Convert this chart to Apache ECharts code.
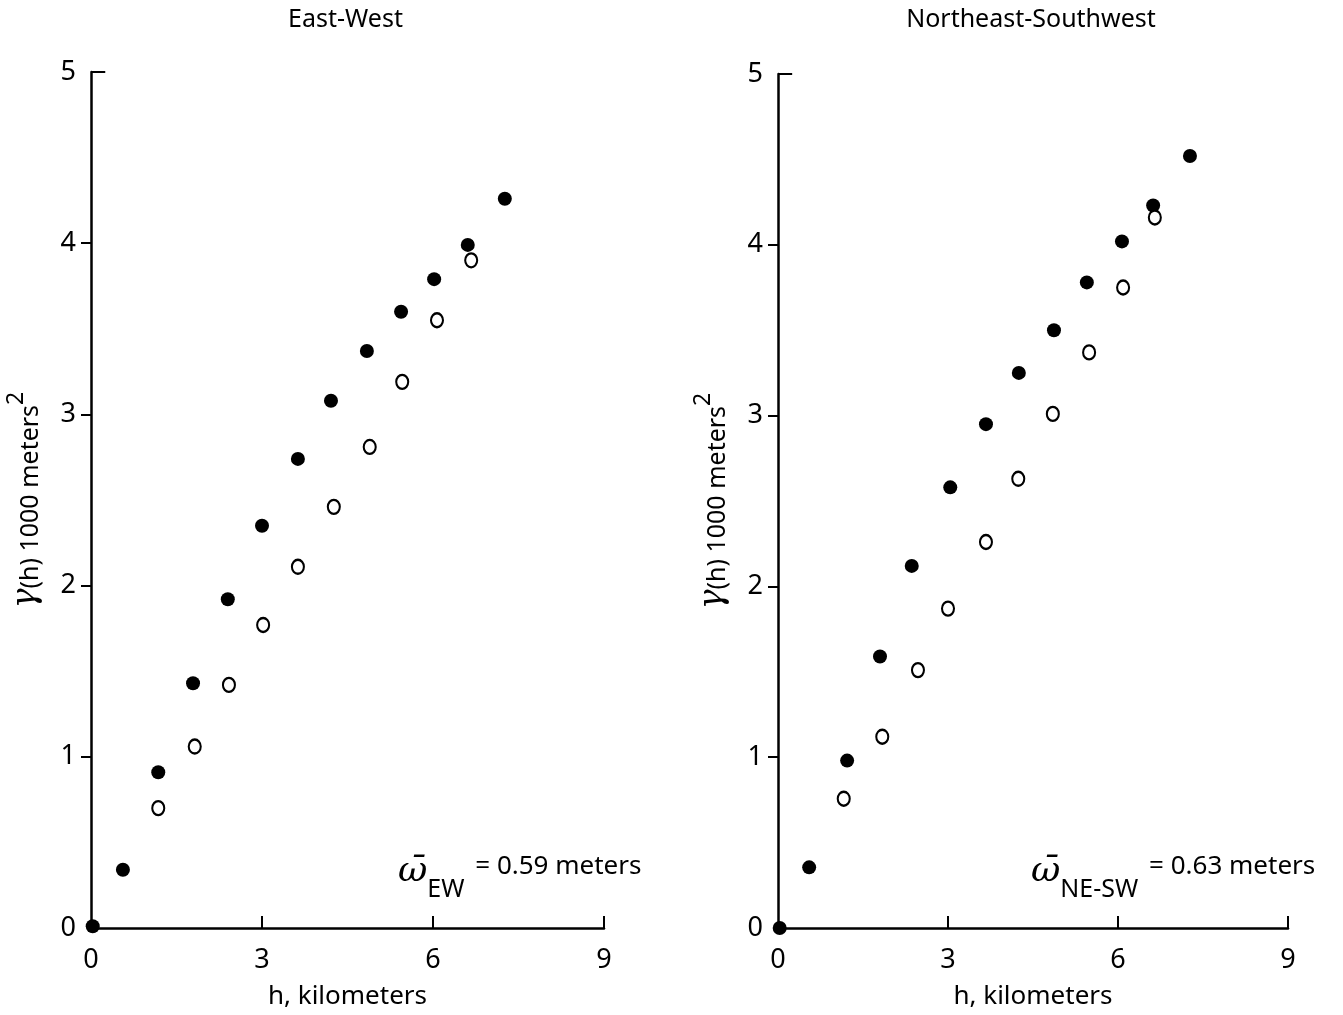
<!DOCTYPE html>
<html><head><meta charset="utf-8">
<script src="https://cdn.jsdelivr.net/npm/echarts@6/dist/echarts.min.js"></script>
<style>html,body{margin:0;padding:0;background:#fff}#c{width:1343px;height:1015px}</style>
</head><body><div id="c"></div>
<script>
// East-West panel
const ewFilledH = [0.03, 0.56, 1.18, 1.79, 2.40, 3.00, 3.63, 4.21, 4.84, 5.44, 6.02, 6.61, 7.26];
const ewFilledG = [0.01, 0.34, 0.91, 1.43, 1.92, 2.35, 2.74, 3.08, 3.37, 3.60, 3.79, 3.99, 4.26];
const ewOpenH = [1.18, 1.82, 2.42, 3.02, 3.63, 4.26, 4.89, 5.46, 6.07, 6.67];
const ewOpenG = [0.70, 1.06, 1.42, 1.77, 2.11, 2.46, 2.81, 3.19, 3.55, 3.90];
// Northeast-Southwest panel
const neFilledH = [0.03, 0.55, 1.22, 1.80, 2.36, 3.04, 3.67, 4.25, 4.87, 5.45, 6.07, 6.62, 7.27];
const neFilledG = [0.00, 0.355, 0.98, 1.59, 2.12, 2.58, 2.95, 3.25, 3.50, 3.78, 4.02, 4.23, 4.52];
const neOpenH = [1.16, 1.84, 2.47, 3.00, 3.67, 4.24, 4.85, 5.49, 6.09, 6.65];
const neOpenG = [0.757, 1.12, 1.51, 1.87, 2.26, 2.63, 3.01, 3.37, 3.75, 4.16];

const xTicks = [0, 3, 6, 9];
const yTicks = [0, 1, 2, 3, 4, 5];
const panelTitles = ['East-West', 'Northeast-Southwest'];
const omegaSubs = ['EW', 'NE-SW'];
const omegaValues = ['0.59', '0.63'];

const FONT = 'Noto Sans';
const zip = (a, b) => a.map((v, i) => [v, b[i]]);

const chart = echarts.init(document.getElementById('c'), null, {renderer: 'canvas'});

const grids = [
  {left: 91, top: 72, width: 513, height: 858},
  {left: 778, top: 74, width: 510, height: 859}
];

function xAxis(i) {
  return {
    type: 'value', gridIndex: i, min: 0, max: 9, interval: 3,
    name: 'h, kilometers', nameLocation: 'middle', nameGap: 56,
    nameTextStyle: {fontFamily: FONT, fontSize: 26, color: '#000'},
    axisLine: {show: true, lineStyle: {color: '#000', width: 2.5}},
    axisTick: {show: true, inside: true, length: 12, lineStyle: {color: '#000', width: 2}, customValues: xTicks.slice(1)},
    axisLabel: {fontFamily: FONT, fontSize: 27, color: '#000', margin: 19, customValues: xTicks},
    splitLine: {show: false}
  };
}
function yAxis(i) {
  return {
    type: 'value', gridIndex: i, min: 0, max: 5, interval: 1,
    name: '{g|\u03B3}{h|(h) 1000 meters}{s|2}', nameLocation: 'middle', nameGap: 48, nameRotate: 90,
    nameTextStyle: {
      color: '#000',
      rich: {
        g: {fontFamily: 'DejaVu Serif', fontStyle: 'italic', fontSize: 33, color: '#000', lineHeight: 30, verticalAlign: 'bottom'},
        h: {fontFamily: FONT, fontSize: 25, color: '#000', lineHeight: 30, verticalAlign: 'bottom'},
        s: {fontFamily: FONT, fontSize: 23, color: '#000', lineHeight: 54}
      }
    },
    axisLine: {show: true, lineStyle: {color: '#000', width: 2.5}},
    axisTick: {show: true, inside: false, length: 10, lineStyle: {color: '#000', width: 2}, customValues: [1, 2, 3, 4]},
    axisLabel: {fontFamily: FONT, fontSize: 27, color: '#000', margin: 15, customValues: yTicks},
    splitLine: {show: false}
  };
}

function filledSeries(i, h, g, withTopTick) {
  const s = {
    type: 'scatter', xAxisIndex: i, yAxisIndex: i, data: zip(h, g),
    symbol: 'circle', symbolSize: 14,
    itemStyle: {color: '#000', borderWidth: 0, opacity: 1},
    z: 5
  };
  if (withTopTick) {
    s.markLine = {
      silent: true, symbol: 'none', label: {show: false},
      lineStyle: {color: '#000', width: 2, type: 'solid'},
      data: [[{coord: [0, 5]}, {coord: [0.25, 5]}]]
    };
  }
  return s;
}
function openSeries(i, h, g) {
  return {
    type: 'scatter', xAxisIndex: i, yAxisIndex: i, data: zip(h, g),
    symbol: 'circle', symbolSize: [12, 14],
    itemStyle: {color: '#fff', borderColor: '#000', borderWidth: 2.2, opacity: 1},
    z: 5
  };
}

const graphics = [];
panelTitles.forEach((t, i) => {
  const g = grids[i];
  graphics.push({
    type: 'text', x: g.left + g.width / 2 - 2, y: 7,
    style: {text: t, fontFamily: FONT, fontSize: 25, fill: '#000', textAlign: 'center', textVerticalAlign: 'top'}
  });
});
const omegaX = [398, 1031];
omegaSubs.forEach((sub, i) => {
  graphics.push({
    type: 'text', x: omegaX[i], y: 890,
    style: {
      text: '{w|\u03C9\u0304}{s|' + sub + '}{t| = ' + omegaValues[i] + ' meters}',
      textVerticalAlign: 'middle',
      rich: {
        w: {fontFamily: 'DejaVu Serif', fontStyle: 'italic', fontSize: 36, fill: '#000', lineHeight: 32, verticalAlign: 'top'},
        s: {fontFamily: FONT, fontSize: 25, fill: '#000', lineHeight: 72, padding: [0, 4, 0, 0]},
        t: {fontFamily: FONT, fontSize: 26, fill: '#000', lineHeight: 32, verticalAlign: 'top'}
      }
    }
  });
});

chart.setOption({
  backgroundColor: '#fff',
  animation: false,
  grid: grids,
  xAxis: [xAxis(0), xAxis(1)],
  yAxis: [yAxis(0), yAxis(1)],
  series: [
    filledSeries(0, ewFilledH, ewFilledG, true),
    openSeries(0, ewOpenH, ewOpenG),
    filledSeries(1, neFilledH, neFilledG, true),
    openSeries(1, neOpenH, neOpenG)
  ],
  graphic: graphics
});
</script>
</body></html>
